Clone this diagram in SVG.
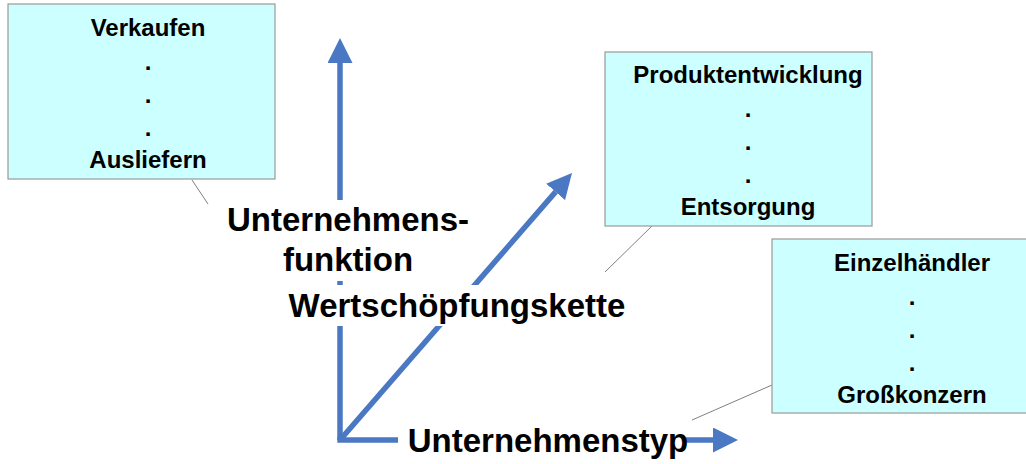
<svg xmlns="http://www.w3.org/2000/svg" width="1026" height="464" viewBox="0 0 1026 464">
  <style>
    .box { fill: #ccffff; stroke: #999999; stroke-width: 1.2; }
    .bt { font-family: "Liberation Sans", Arial, sans-serif; font-weight: bold; font-size: 24px; fill: #000; text-anchor: middle; }
    .lbl { font-family: "Liberation Sans", Arial, sans-serif; font-weight: bold; font-size: 33px; fill: #000; text-anchor: middle; }
    .axis { stroke: #4a78c2; stroke-width: 5.5; fill: none; }
    .lead { stroke: #808080; stroke-width: 1; fill: none; }
    .bg { fill: #ffffff; }
  </style>
  <defs>
    <marker id="ah" markerUnits="userSpaceOnUse" markerWidth="25" markerHeight="25" refX="0" refY="12.5" orient="auto" viewBox="0 0 25 25">
      <path d="M0,0 L25,12.5 L0,25 z" fill="#4a78c2"/>
    </marker>
  </defs>
  <rect width="1026" height="464" fill="#ffffff"/>

  <g id="connectors">
    <line class="axis" x1="340" y1="440" x2="340" y2="63" marker-end="url(#ah)"/>
    <line class="axis" x1="340" y1="440" x2="555.6" y2="191.9" marker-end="url(#ah)"/>
    <line class="axis" x1="337.3" y1="440" x2="713" y2="440" marker-end="url(#ah)"/>
    <line class="lead" x1="192" y1="180" x2="208" y2="204"/>
    <line class="lead" x1="652" y1="226" x2="605" y2="272"/>
    <line class="lead" x1="772" y1="385" x2="692" y2="420"/>
  </g>

  <g id="box-funktion">
    <rect class="box" x="8" y="4" width="267" height="175"/>
    <text class="bt" x="148" y="35.5">Verkaufen</text>
    <text class="bt" x="148" y="69.5">.</text>
    <text class="bt" x="148" y="102.5">.</text>
    <text class="bt" x="148" y="135.5">.</text>
    <text class="bt" x="148" y="167.5">Ausliefern</text>
  </g>

  <g id="box-kette">
    <rect class="box" x="605" y="52" width="267" height="174"/>
    <text class="bt" x="748" y="83.3">Produktentwicklung</text>
    <text class="bt" x="748" y="117">.</text>
    <text class="bt" x="748" y="150">.</text>
    <text class="bt" x="748" y="183">.</text>
    <text class="bt" x="748" y="215">Entsorgung</text>
  </g>

  <g id="box-typ">
    <rect class="box" x="772" y="239" width="270" height="174"/>
    <text class="bt" x="912" y="270.7">Einzelhändler</text>
    <text class="bt" x="912" y="304.5">.</text>
    <text class="bt" x="912" y="337.5">.</text>
    <text class="bt" x="912" y="370.5">.</text>
    <text class="bt" x="912" y="402.7">Großkonzern</text>
  </g>

  <g id="label-funktion">
    <rect class="bg" x="225" y="200" width="247" height="81"/>
    <text class="lbl" x="348" y="231">Unternehmens-</text>
    <text class="lbl" x="348" y="271">funktion</text>
  </g>

  <g id="label-kette">
    <rect class="bg" x="284" y="285" width="346" height="41"/>
    <text class="lbl" x="457" y="317">Wertschöpfungskette</text>
  </g>

  <g id="label-typ">
    <rect class="bg" x="398" y="422" width="288" height="42"/>
    <text class="lbl" x="548" y="452">Unternehmenstyp</text>
  </g>
</svg>
